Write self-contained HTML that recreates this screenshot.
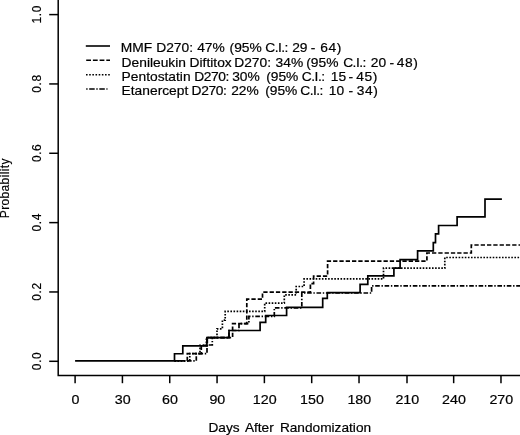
<!DOCTYPE html>
<html><head><meta charset="utf-8"><title>Plot</title>
<style>html,body{margin:0;padding:0;background:#fff}svg{display:block}</style></head>
<body>
<svg width="520" height="435" viewBox="0 0 520 435">
<rect width="520" height="435" fill="#fff"/>
<g fill="none" stroke="#000" stroke-width="1.5" stroke-linejoin="miter" stroke-linecap="butt">
<path d="M58.2,0V375.6H520"/>
<path d="M75.10,375.6V383.2"/>
<path d="M122.42,375.6V383.2"/>
<path d="M169.74,375.6V383.2"/>
<path d="M217.06,375.6V383.2"/>
<path d="M264.38,375.6V383.2"/>
<path d="M311.70,375.6V383.2"/>
<path d="M359.02,375.6V383.2"/>
<path d="M407.00,375.6V383.2"/>
<path d="M453.66,375.6V383.2"/>
<path d="M500.98,375.6V383.2"/>
<path d="M49.2,361.30H58.2"/>
<path d="M49.2,291.96H58.2"/>
<path d="M49.2,222.62H58.2"/>
<path d="M49.2,153.28H58.2"/>
<path d="M49.2,83.94H58.2"/>
<path d="M49.2,14.60H58.2"/>
<path d="M75.10,360.90H174.50V353.75H182.80V345.80H206.90V337.70H229.00V330.50H260.10V322.30H265.70V315.50H286.60V307.40H322.70V298.40H327.30V292.60H360.10V284.30H367.80V275.80H393.90V268.10H400.10V259.70H417.60V250.80H433.30V242.70H435.50V233.90H438.60V225.50H457.10V216.90H485.00V199.10H501.90" stroke-width="1.7"/>
<path d="M174.50,360.90H187.30V353.60H201.30V345.40H207.30V337.60H232.60V323.70H246.80V299.20H262.50V292.20H310.40V283.60H313.60V276.20H327.60V261.20H426.90V253.00H471.30V245.00H520.00" stroke-width="1.7" stroke-dasharray="4.3 2"/>
<path d="M174.50,360.90H189.80V353.60H200.00V345.40H206.40V337.60H217.00V328.80H222.40V320.20H225.20V311.40H264.70V303.10H284.30V294.90H296.20V286.50H304.10V278.90H383.50V268.10H444.80V257.50H520.00" stroke-width="1.7" stroke-dasharray="1.6 1.5"/>
<path d="M174.50,360.90H196.30V353.60H207.00V345.00H212.30V337.60H229.00V330.50H239.00V323.70H248.90V316.40H274.30V307.80H301.80V293.00H371.60V285.90H520.00" stroke-width="1.7" stroke-dasharray="1.4 1.7 4.6 1.7"/>
<path d="M85.8,46H110" stroke-width="1.6"/>
<path d="M86.2,60.2H110" stroke-width="1.6" stroke-dasharray="4.8 1.9"/>
<path d="M86,74.8H110" stroke-width="1.6" stroke-dasharray="1.6 1.57"/>
<path d="M86.2,89H107.5" stroke-width="1.6" stroke-dasharray="1.4 1.6 5.5 1.6"/>
</g>
<g font-family="'Liberation Sans', Arial, sans-serif" font-size="12" fill="#000" stroke="#000" stroke-width="0.18">
<text transform="translate(75.40,403.6) scale(1.19,1.02)" text-anchor="middle">0</text>
<text transform="translate(122.72,403.6) scale(1.19,1.02)" text-anchor="middle">30</text>
<text transform="translate(170.04,403.6) scale(1.19,1.02)" text-anchor="middle">60</text>
<text transform="translate(217.36,403.6) scale(1.19,1.02)" text-anchor="middle">90</text>
<text transform="translate(264.68,403.6) scale(1.19,1.02)" text-anchor="middle">120</text>
<text transform="translate(312.00,403.6) scale(1.19,1.02)" text-anchor="middle">150</text>
<text transform="translate(359.32,403.6) scale(1.19,1.02)" text-anchor="middle">180</text>
<text transform="translate(407.30,403.6) scale(1.19,1.02)" text-anchor="middle">210</text>
<text transform="translate(453.96,403.6) scale(1.19,1.02)" text-anchor="middle">240</text>
<text transform="translate(501.28,403.6) scale(1.19,1.02)" text-anchor="middle">270</text>
<text transform="translate(41,360.90) rotate(-90) scale(1,1.04)" text-anchor="middle" letter-spacing="0.6">0.0</text>
<text transform="translate(41,291.56) rotate(-90) scale(1,1.04)" text-anchor="middle" letter-spacing="0.6">0.2</text>
<text transform="translate(41,222.22) rotate(-90) scale(1,1.04)" text-anchor="middle" letter-spacing="0.6">0.4</text>
<text transform="translate(41,152.88) rotate(-90) scale(1,1.04)" text-anchor="middle" letter-spacing="0.6">0.6</text>
<text transform="translate(41,83.54) rotate(-90) scale(1,1.04)" text-anchor="middle" letter-spacing="0.6">0.8</text>
<text transform="translate(41,14.20) rotate(-90) scale(1,1.04)" text-anchor="middle" letter-spacing="0.6">1.0</text>
<text transform="translate(9.3,188.4) rotate(-90) scale(1,1.02)" text-anchor="middle" textLength="59.6" lengthAdjust="spacing">Probability</text>
<text transform="translate(0,432) scale(1.14,1)" xml:space="preserve"><tspan x="182.89">Days</tspan> <tspan x="214.82">After</tspan> <tspan x="245.53">Randomization</tspan></text>
<text transform="translate(0,52.3) scale(1.14,1)" font-size="12.1" xml:space="preserve"><tspan x="105.96">MMF</tspan> <tspan x="137.02">D270:</tspan> <tspan x="172.98">47%</tspan> <tspan x="201.40">(95%</tspan> <tspan x="232.63" letter-spacing="-0.45">C.I.:</tspan> <tspan x="256.32">29</tspan> <tspan x="272.54">-</tspan> <tspan x="280.88" letter-spacing="0.5">64)</tspan></text>
<text transform="translate(0,66.7) scale(1.14,1)" font-size="12.1" xml:space="preserve"><tspan x="106.67">Denileukin</tspan> <tspan x="166.32">Diftitox</tspan> <tspan x="205.44">D270:</tspan> <tspan x="241.75">34%</tspan> <tspan x="268.60">(95%</tspan> <tspan x="301.05" letter-spacing="-0.45">C.I.:</tspan> <tspan x="325.26">20</tspan> <tspan x="341.75">-</tspan> <tspan x="348.07" letter-spacing="0.5">48)</tspan></text>
<text transform="translate(0,81.0) scale(1.14,1)" font-size="12.1" xml:space="preserve"><tspan x="106.67">Pentostatin</tspan> <tspan x="170.35" letter-spacing="-0.35">D270:</tspan> <tspan x="203.68">30%</tspan> <tspan x="233.51">(95%</tspan> <tspan x="264.74" letter-spacing="-0.45">C.I.:</tspan> <tspan x="290.18">15</tspan> <tspan x="305.79">-</tspan> <tspan x="312.46" letter-spacing="0.5">45)</tspan></text>
<text transform="translate(0,95.2) scale(1.14,1)" font-size="12.1" xml:space="preserve"><tspan x="106.67">Etanercept</tspan> <tspan x="168.07" letter-spacing="-0.35">D270:</tspan> <tspan x="202.81">22%</tspan> <tspan x="232.63">(95%</tspan> <tspan x="263.33" letter-spacing="-0.45">C.I.:</tspan> <tspan x="288.42">10</tspan> <tspan x="305.70">-</tspan> <tspan x="312.98" letter-spacing="0.5">34)</tspan></text>
</g></svg>
</body></html>
